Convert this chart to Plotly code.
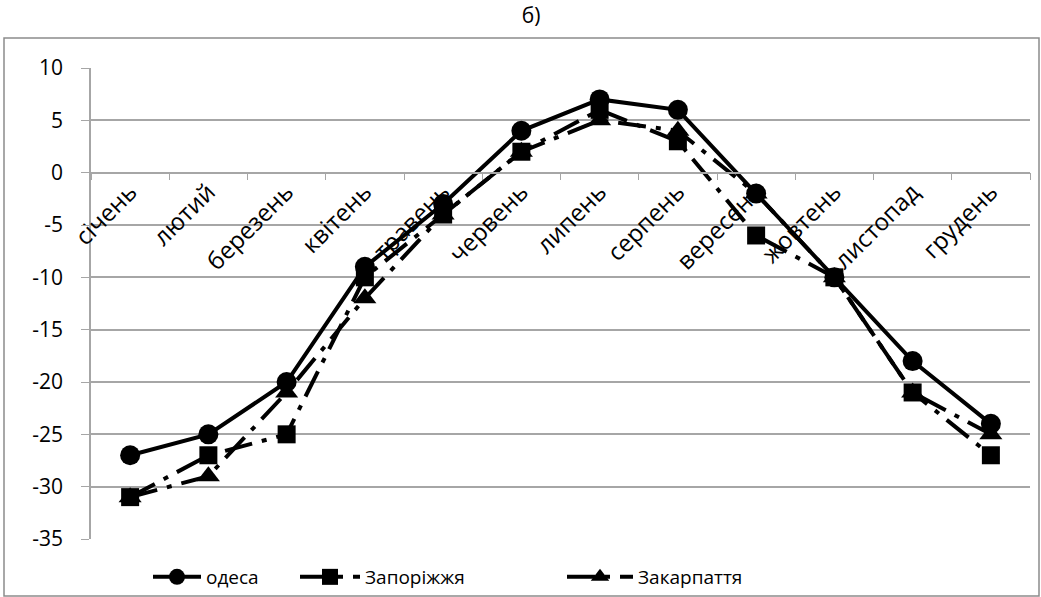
import plotly.graph_objects as go

months = ["січень", "лютий", "березень", "квітень", "травень", "червень",
          "липень", "серпень", "вересень", "жовтень", "листопад", "грудень"]
odesa = [-27, -25, -20, -9, -3, 4, 7, 6, -2, -10, -18, -24]
zaporizhzhia = [-31, -27, -25, -10, -4, 2, 6, 3, -6, -10, -21, -27]
zakarpattia = [-31, -29, -21, -12, -4, 2, 5, 4, -2, -10, -21, -25]
series_names = ["одеса", "Запоріжжя", "Закарпаття"]
y_ticks = [10, 5, 0, -5, -10, -15, -20, -25, -30, -35]
y_tick_labels = ["10", "5", "0", "-5", "-10", "-15", "-20", "-25", "-30", "-35"]

W, H = 1041, 597
L, R, T, B = 91, 11, 68, 58
PW, PH = W - L - R, H - T - B


def px(x):
    return (x - L) / PW


def py(y):
    return (H - B - y) / PH


FONT = "Open Sans"
GRID = "#a6a6a6"
DASH = "28px,10px,5px,10px"

fig = go.Figure()
fig.add_trace(go.Scatter(
    x=months, y=odesa, name=series_names[0], mode="lines+markers",
    line=dict(color="black", width=4),
    marker=dict(symbol="circle", size=20, color="black"),
    legend="legend"))
fig.add_trace(go.Scatter(
    x=months, y=zaporizhzhia, name=series_names[1], mode="lines+markers",
    line=dict(color="black", width=4, dash=DASH),
    marker=dict(symbol="square", size=18, color="black"),
    legend="legend2"))
fig.add_trace(go.Scatter(
    x=months, y=zakarpattia, name=series_names[2], mode="lines+markers",
    line=dict(color="black", width=4, dash=DASH),
    marker=dict(symbol="triangle-up", size=20, color="black"),
    legend="legend3"))

leg_common = dict(orientation="h", yanchor="middle", y=py(577), xanchor="left",
                  font=dict(family=FONT, size=19, color="black"),
                  bgcolor="rgba(0,0,0,0)")

fig.update_layout(
    width=W, height=H,
    margin=dict(l=L, r=R, t=T, b=B, pad=0, autoexpand=False),
    paper_bgcolor="white", plot_bgcolor="white",
    font=dict(family=FONT, size=19, color="black"),
    title=dict(text="б)", x=531 / W, xanchor="center", y=1 - 16 / H, yanchor="middle",
               font=dict(family=FONT, size=21, color="black")),
    showlegend=True,
    legend=dict(x=px(148), itemwidth=48, **leg_common),
    legend2=dict(x=px(295), itemwidth=60, **leg_common),
    legend3=dict(x=px(562), itemwidth=66, **leg_common),
    xaxis=dict(
        type="category", categoryorder="array", categoryarray=months,
        anchor="free", position=35 / 45, showgrid=False, automargin=False,
        showline=True, linecolor=GRID, linewidth=1.5,
        ticks="outside", tickson="boundaries", ticklen=7, tickcolor=GRID,
        ticklabelstandoff=-5,
        tickangle=-45, tickfont=dict(family=FONT, size=24, color="black"),
        zeroline=False, range=[-0.5, 11.5]),
    yaxis=dict(
        range=[-35, 10], tickvals=y_ticks, ticktext=y_tick_labels, automargin=False,
        showgrid=True, gridcolor=GRID, gridwidth=1.5,
        showline=True, linecolor=GRID, linewidth=1.5, ticks="outside", ticklen=8,
        ticklabelstandoff=14,
        tickcolor=GRID, zeroline=False, tickfont=dict(family=FONT, size=21, color="black")),
)

fig.add_shape(type="rect", xref="paper", yref="paper",
              x0=px(4), x1=px(1039), y0=py(596), y1=py(38),
              line=dict(color="#8c8c8c", width=1.5), fillcolor="rgba(0,0,0,0)", layer="below")

fig.write_html("out.html", config={"displayModeBar": False},
               post_script="document.body.style.margin='0px';")
